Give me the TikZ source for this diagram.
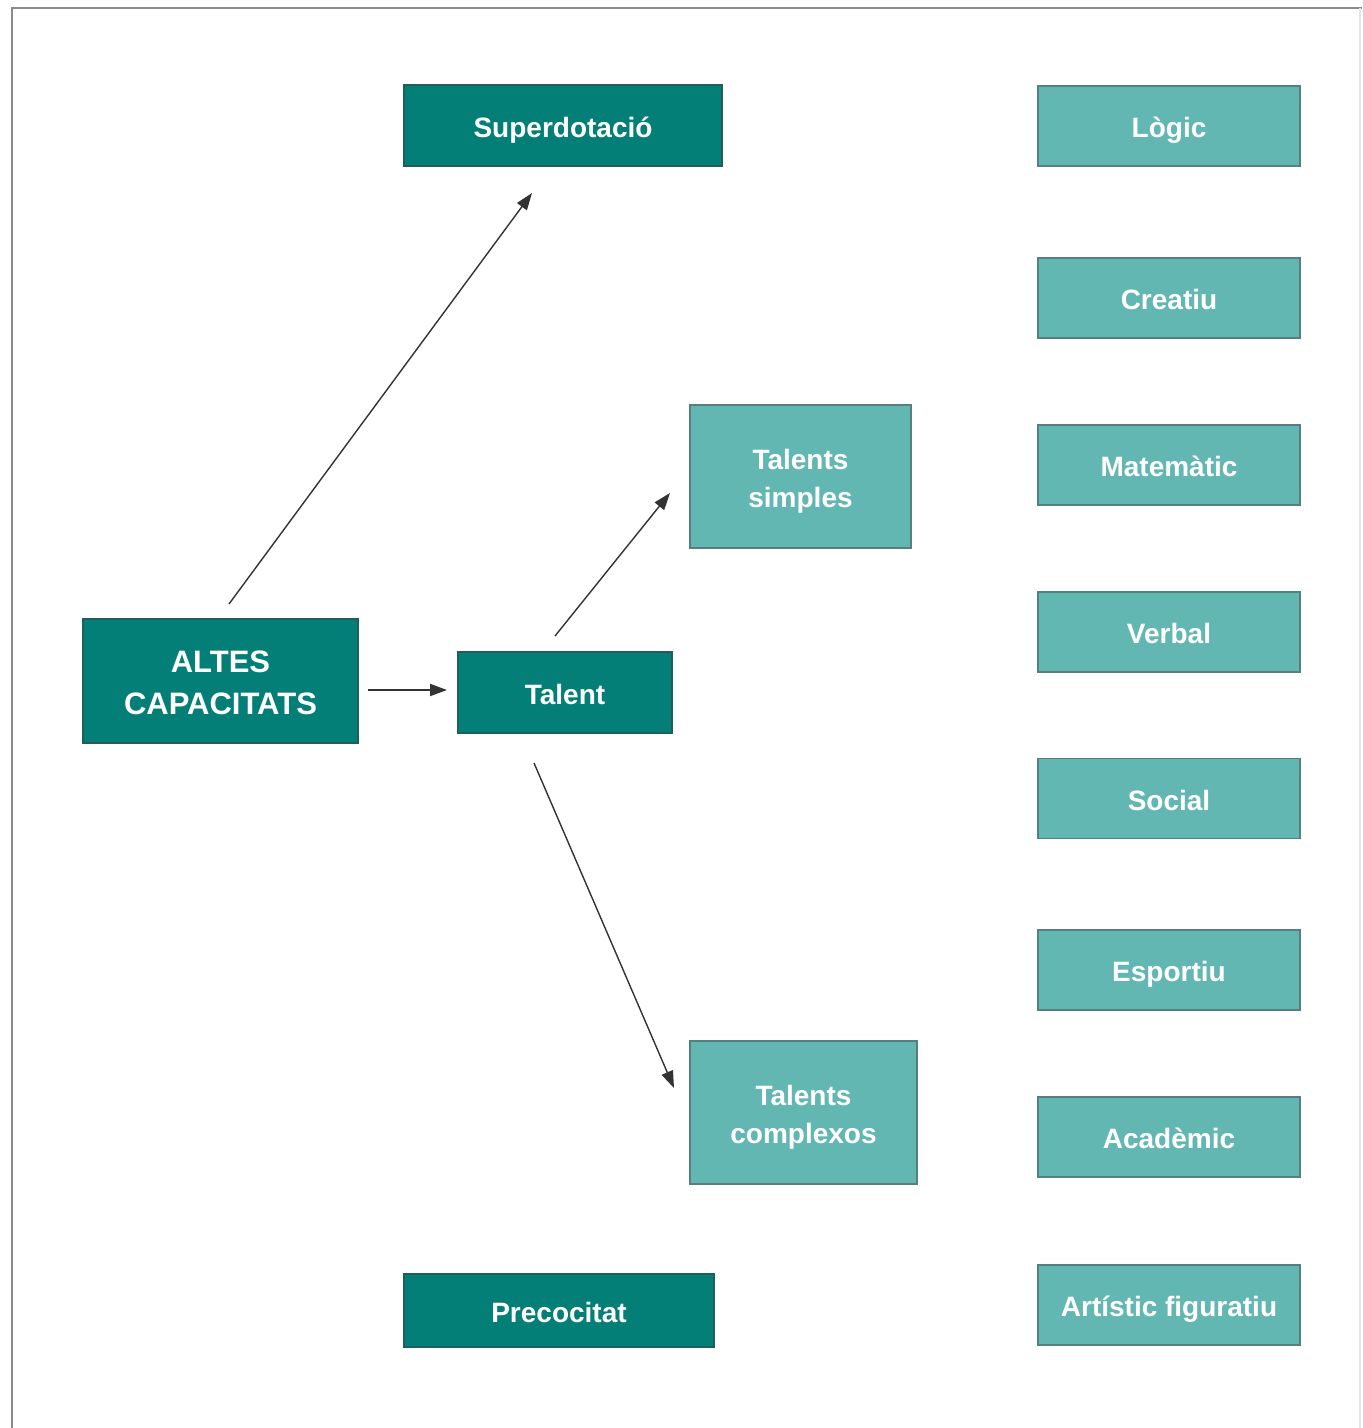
\documentclass[tikz,border=0pt]{standalone}
\usepackage{fontspec}
\setmainfont{Liberation Sans}
\usetikzlibrary{arrows.meta}
\definecolor{darkteal}{HTML}{047F78}
\definecolor{lightteal}{HTML}{63B7B3}
\definecolor{lightedge}{HTML}{55807E}
\definecolor{darkedge}{HTML}{1F5F5B}
\definecolor{framegray}{HTML}{8A8A8A}
\definecolor{arrowgray}{HTML}{333333}
\newcommand\bxt[1]{\raisebox{-2pt}[\height][\depth]{\begin{tabular}{@{}c@{}}#1\end{tabular}}}
\begin{document}
\begin{tikzpicture}[x=0.5pt,y=-0.5pt,
  box/.style={rectangle,inner sep=0pt,text=white,font=\bfseries\fontsize{14}{19}\selectfont},
  darkbox/.style={box,fill=darkteal,draw=darkedge,line width=0.6pt},
  lightbox/.style={box,fill=lightteal,draw=lightedge,line width=0.6pt},
  rightbox/.style={lightbox,minimum width=131pt,minimum height=40pt},
  conn/.style={draw=arrowgray,line width=0.7pt,-{Triangle[length=8.5pt,width=6pt]}}]
\useasboundingbox (0,0) rectangle (1363,1428);
\fill[white] (0,0) rectangle (1363,1428);
% frame
\draw[framegray,line width=1.2pt] (12,1428) -- (12,8) -- (1362,8);
\draw[black!10,line width=0.6pt] (1360,8) -- (1360,1428);
% nodes
\node[darkbox,minimum width=159pt,minimum height=40.5pt] (sup) at (563,125.5) {\bxt{Superdotació}};
\node[darkbox,minimum width=137.5pt,minimum height=62pt,font=\bfseries\fontsize{15.5}{21}\selectfont] (altes) at (220.5,681) {\bxt{ALTES\\CAPACITATS}};
\node[darkbox,minimum width=107pt,minimum height=40.5pt] (talent) at (565,692.5) {\bxt{Talent}};
\node[lightbox,minimum width=110.5pt,minimum height=71.5pt] (simples) at (800.5,476.5) {\bxt{Talents\\simples}};
\node[lightbox,minimum width=113.5pt,minimum height=71.5pt] (complexos) at (803.5,1112.5) {\bxt{Talents\\complexos}};
\node[darkbox,minimum width=155pt,minimum height=36.5pt] (preco) at (559,1310.5) {\bxt{Precocitat}};
\node[rightbox] (logic) at (1169,126) {\bxt{Lògic}};
\node[rightbox] (creatiu) at (1169,298) {\bxt{Creatiu}};
\node[rightbox] (matematic) at (1169,465) {\bxt{Matemàtic}};
\node[rightbox] (verbal) at (1169,632) {\bxt{Verbal}};
\node[rightbox] (social) at (1169,798.5) {\bxt{Social}};
\node[rightbox] (esportiu) at (1169,970) {\bxt{Esportiu}};
\node[rightbox] (academic) at (1169,1137) {\bxt{Acadèmic}};
\node[rightbox] (artistic) at (1169,1305) {\bxt{Artístic figuratiu}};
% connector ends
\coordinate (a1s) at (229,604);
\coordinate (a1e) at (532,193);
\coordinate (a2s) at (368,690);
\coordinate (a2e) at (447,690);
\coordinate (a3s) at (555,636);
\coordinate (a3e) at (670,493);
\coordinate (a4s) at (534,763);
\coordinate (a4e) at (674,1088);
\draw[conn] (a1s) -- (a1e);
\draw[conn,line width=1pt] (a2s) -- (a2e);
\draw[conn] (a3s) -- (a3e);
\draw[conn] (a4s) -- (a4e);
\end{tikzpicture}
\end{document}
